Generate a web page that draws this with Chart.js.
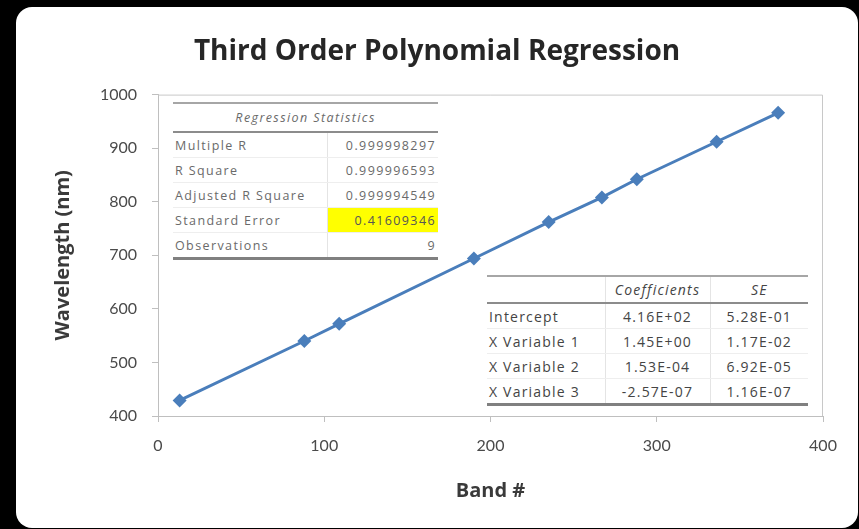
<!DOCTYPE html>
<html>
<head>
<meta charset="utf-8">
<script src="https://cdn.jsdelivr.net/npm/chart.js@4.4.0/dist/chart.umd.min.js"></script>
<style>
    html, body { margin: 0; padding: 0; background: #000; width: 859px; height: 529px; overflow: hidden; }
    #card { position: absolute; left: 16px; top: 7px; width: 842px; height: 521px; background: #fff; border-radius: 16px; }
    #card canvas { display: block; }
    table.stats { position: absolute; border-collapse: collapse; table-layout: fixed; font-family: "Open Sans", Lato, sans-serif; background: #fff; }
    table.stats td { padding: 0 2px; white-space: nowrap; overflow: hidden; border-bottom: 1px solid #eeeeee; }
    table.stats td + td { border-left: 1px solid #e4e4e4; }
    table.stats tr.head td { font-style: italic; border-top: 2px solid #a6a6a6; border-bottom: 2px solid #8c8c8c; }
    table.stats tr:last-child td { border-bottom: 3px solid #808080; }
    #regStats { left: 173px; top: 102px; width: 265px; font-size: 12.5px; letter-spacing: 1.4px; color: #6a6a6a; }
    #regStats td { height: 24px; }
    #regStats tr.head td { height: 27px; text-align: center; }
    #regStats td.num { text-align: right; }
    #regStats td.hl { background: #ffff00; color: #555; }
    #coefTable { left: 487px; top: 275px; width: 321px; font-size: 14px; letter-spacing: 1.2px; color: #444; }
    #coefTable td { height: 24px; }
    #coefTable tr.head td { height: 25px; }
    #coefTable td.num { text-align: center; }
</style>
</head>
<body>
<div id="card"><canvas id="regChart" width="842" height="521"></canvas></div>
<table class="stats" id="regStats">
    <colgroup><col style="width:154px"><col style="width:111px"></colgroup>
    <tbody></tbody>
</table>
<table class="stats" id="coefTable">
    <colgroup><col style="width:118px"><col style="width:105px"><col style="width:98px"></colgroup>
    <tbody></tbody>
</table>
<script>
// datos
const bandNumbers = [13, 88, 109, 190, 235, 267, 288, 336, 373];
const wavelengths = [429, 540, 572, 694, 762, 808, 842, 912, 966];

const statLabels = ['Multiple R', 'R Square', 'Adjusted R Square', 'Standard Error', 'Observations'];
const statValues = ['0.999998297', '0.999996593', '0.999994549', '0.41609346', '9'];

const coefLabels = ['Intercept', 'X Variable 1', 'X Variable 2', 'X Variable 3'];
const coefValues = ['4.16E+02', '1.45E+00', '1.53E-04', '-2.57E-07'];
const seValues = ['5.28E-01', '1.17E-02', '6.92E-05', '1.16E-07'];

// ===================
// Tablas de regresion
// ===================
function fila(cells, cls) {
    const tr = document.createElement('tr');
    if (cls) tr.className = cls;
    cells.forEach(function (c) {
        const td = document.createElement('td');
        td.textContent = c.text;
        if (c.cls) td.className = c.cls;
        tr.appendChild(td);
    });
    return tr;
}

const statBody = document.querySelector('#regStats tbody');
const head1 = fila([{ text: 'Regression Statistics' }], 'head');
head1.firstChild.colSpan = 2;
statBody.appendChild(head1);
statLabels.forEach(function (lab, i) {
    statBody.appendChild(fila([
        { text: lab },
        { text: statValues[i], cls: lab === 'Standard Error' ? 'num hl' : 'num' }
    ]));
});

const coefBody = document.querySelector('#coefTable tbody');
coefBody.appendChild(fila([{ text: '' }, { text: 'Coefficients', cls: 'num' }, { text: 'SE', cls: 'num' }], 'head'));
coefLabels.forEach(function (lab, i) {
    coefBody.appendChild(fila([
        { text: lab },
        { text: coefValues[i], cls: 'num' },
        { text: seValues[i], cls: 'num' }
    ]));
});

// ===================
// Grafico
// ===================
const plotBorder = {
    id: 'plotBorder',
    beforeDatasetsDraw(chart) {
        const a = chart.chartArea;
        const ctx = chart.ctx;
        ctx.save();
        ctx.strokeStyle = '#c8c8c8';
        ctx.lineWidth = 1;
        ctx.beginPath();
        ctx.moveTo(a.left, a.top + 0.5);
        ctx.lineTo(a.right - 0.5, a.top + 0.5);
        ctx.lineTo(a.right - 0.5, a.bottom);
        ctx.stroke();
        ctx.restore();
    }
};

const ctx = document.getElementById('regChart').getContext('2d');
const regChart = new Chart(ctx, {
    type: 'scatter',
    data: {
        datasets: [{
            label: 'Wavelength',
            data: bandNumbers.map(function (b, i) { return { x: b, y: wavelengths[i] }; }),
            showLine: true,
            borderColor: '#4a7ebb',
            backgroundColor: '#4a7ebb',
            borderWidth: 3,
            pointStyle: 'rectRot',
            pointRadius: 7,
            pointBorderWidth: 0
        }]
    },
    options: {
        responsive: false,
        animation: false,
        layout: { padding: 0 },
        plugins: {
            legend: { display: false },
            tooltip: { enabled: false },
            title: {
                display: true,
                text: 'Third Order Polynomial Regression',
                color: '#262626',
                font: { family: 'Open Sans', size: 28, weight: 'bold' },
                padding: { top: 28, bottom: 26 }
            }
        },
        scales: {
            x: {
                type: 'linear',
                min: 0,
                max: 400,
                afterFit: function (s) { s.height = 112; },
                ticks: { stepSize: 100, padding: 14, color: '#4a4a4a', font: { family: 'Lato', size: 16 } },
                grid: { drawOnChartArea: false, tickLength: 6, color: '#bfbfbf' },
                border: { color: '#bfbfbf' },
                title: {
                    display: true,
                    text: 'Band #',
                    color: '#3a3a3a',
                    font: { family: 'Open Sans', size: 20, weight: 'bold' },
                    padding: { top: 0, bottom: 25 }
                }
            },
            y: {
                min: 400,
                max: 1000,
                afterFit: function (s) { s.width = 142; },
                ticks: {
                    stepSize: 100,
                    padding: 15,
                    color: '#4a4a4a',
                    font: { family: 'Lato', size: 16 },
                    callback: function (v) { return String(v); }
                },
                grid: { drawOnChartArea: false, tickLength: 6, color: '#bfbfbf' },
                border: { color: '#bfbfbf' },
                title: {
                    display: true,
                    text: 'Wavelength (nm)',
                    color: '#3a3a3a',
                    font: { family: 'Open Sans', size: 20, weight: 'bold' },
                    padding: { top: 35, bottom: 0 }
                }
            },
            // eje vacio a la derecha, solo reserva margen
            margenDer: {
                type: 'linear',
                position: 'right',
                afterFit: function (s) { s.width = 35; },
                ticks: { display: false },
                grid: { display: false },
                border: { display: false }
            }
        }
    },
    plugins: [plotBorder]
});
</script>
</body>
</html>
